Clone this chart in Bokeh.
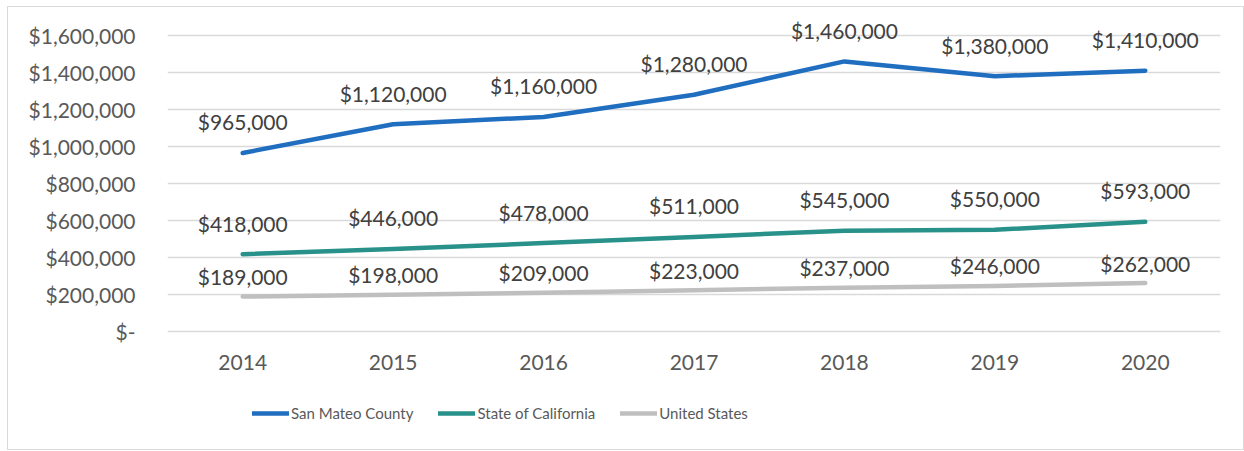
from bokeh.plotting import figure
from bokeh.layouts import column
from bokeh.models import (ColumnDataSource, FactorRange, Range1d, FixedTicker,
                          Legend, LegendItem)
from bokeh.core.properties import value
from bokeh.embed import file_html
from bokeh.resources import INLINE

years = ["2014", "2015", "2016", "2017", "2018", "2019", "2020"]
san_mateo = [965000, 1120000, 1160000, 1280000, 1460000, 1380000, 1410000]
california = [418000, 446000, 478000, 511000, 545000, 550000, 593000]
united_states = [189000, 198000, 209000, 223000, 237000, 246000, 262000]
y_ticks = [0, 200000, 400000, 600000, 800000, 1000000, 1200000, 1400000, 1600000]
y_tick_labels = ["$-", "$200,000", "$400,000", "$600,000", "$800,000",
                 "$1,000,000", "$1,200,000", "$1,400,000", "$1,600,000"]
series_names = ["San Mateo County", "State of California", "United States"]
series_colors = ["#1F6EBF", "#28918A", "#BFBFBF"]

FONT = "Lato"
FS = "21px"
W = 1235

p = figure(width=W, height=379, output_backend="svg", toolbar_location=None,
           x_range=FactorRange(*years, range_padding=0),
           y_range=Range1d(-10811, 1745946),
           min_border_left=159, min_border_right=W - 1212,
           min_border_top=1, min_border_bottom=53)
p.outline_line_color = None

p.xgrid.grid_line_color = None
p.ygrid.grid_line_color = "#d9d9d9"
p.ygrid.grid_line_width = 1.3
p.yaxis.ticker = FixedTicker(ticks=y_ticks)
p.yaxis.major_label_overrides = {t: l for t, l in zip(y_ticks, y_tick_labels)}

for ax in (p.xaxis, p.yaxis):
    ax.axis_line_color = None
    ax.major_tick_line_color = None
    ax.minor_tick_line_color = None
    ax.major_label_text_font = FONT
    ax.major_label_text_font_size = FS
    ax.major_label_text_color = "#595959"
p.yaxis.major_label_standoff = 26
p.xaxis.major_label_standoff = 15

# legend strip: same series, drawn outside its visible range so only the legend shows
lg = figure(width=W, height=63, output_backend="svg", toolbar_location=None,
            x_range=FactorRange(*years), y_range=Range1d(-2, -1),
            x_axis_type=None, y_axis_type=None,
            min_border_left=0, min_border_right=0,
            min_border_top=0, min_border_bottom=0)
lg.outline_line_color = None
lg.xgrid.grid_line_color = None
lg.ygrid.grid_line_color = None

offsets = [-31, -31, -20]
items = []
for vals, name, col, off in zip([san_mateo, california, united_states],
                                series_names, series_colors, offsets):
    src = ColumnDataSource(dict(x=years, y=vals,
                                lab=["${:,}".format(v) for v in vals]))
    p.line("x", "y", source=src, line_color=col, line_width=4.5,
           line_cap="round", line_join="round")
    p.text("x", "y", text="lab", source=src, y_offset=off,
           text_align="center", text_baseline="middle",
           text_font=value(FONT), text_font_size=FS, text_color="#404040")
    r = lg.line("x", "y", source=src, line_color=col, line_width=4.5,
                line_cap="round")
    items.append(LegendItem(label=name, renderers=[r]))

legend = Legend(items=items, orientation="horizontal", location=(85, 27),
                border_line_color=None, background_fill_alpha=0, padding=0,
                glyph_width=37, glyph_height=18, label_standoff=2, spacing=25,
                label_text_font=FONT, label_text_font_size="15px",
                label_text_color="#595959", margin=0)
lg.add_layout(legend, "center")

layout = column(p, lg, spacing=0)
layout.styles = {"border": "1px solid #d9d9d9", "margin": "6px 0 0 7px"}

open("out.html", "w").write(file_html(layout, INLINE))
